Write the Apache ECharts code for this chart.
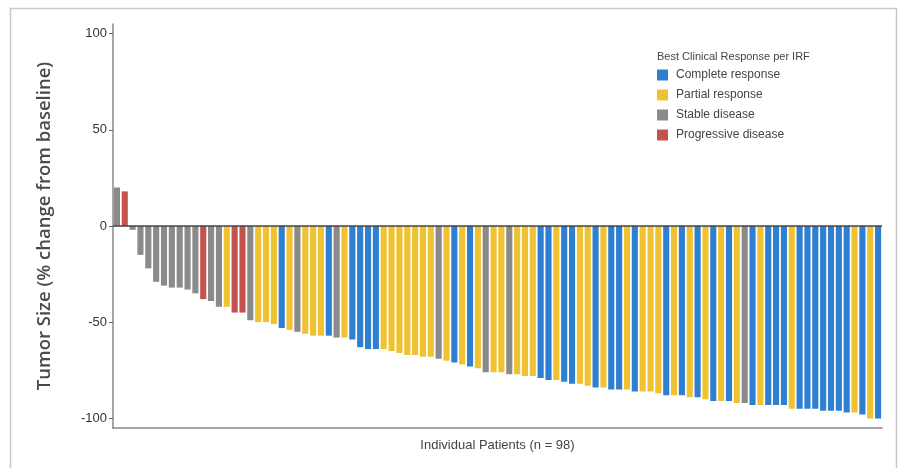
<!DOCTYPE html>
<html>
<head>
<meta charset="utf-8">
<script src="https://cdn.jsdelivr.net/npm/echarts@6/dist/echarts.min.js"></script>
<style>html,body{margin:0;padding:0;background:#fff;}#c{width:907px;height:468px;}</style>
</head>
<body>
<div id="c"></div>
<script>
// Response codes: C = Complete, P = Partial, S = Stable, D = Progressive
const patients = Array.from({length: 98}, (_, i) => 'P' + (i + 1));
const tumorChange = [
  20, 18, -2, -15, -22, -29, -31, -32, -32, -33,
  -35, -38, -39, -42, -42, -45, -45, -49, -50, -50,
  -51, -53, -54, -55, -56, -57, -57, -57, -58, -58,
  -59, -63, -64, -64, -64, -65, -66, -67, -67, -68,
  -68, -69, -70, -71, -72, -73, -74, -76, -76, -76,
  -77, -77, -78, -78, -79, -80, -80, -81, -82, -82,
  -83, -84, -84, -85, -85, -85, -86, -86, -86, -87,
  -88, -88, -88, -89, -89, -90, -91, -91, -91, -92,
  -92, -93, -93, -93, -93, -93, -95, -95, -95, -95,
  -96, -96, -96, -97, -97, -98, -100, -100
];
const response = [
  'S','D','S','S','S','S','S','S','S','S',
  'S','D','S','S','P','D','D','S','P','P',
  'P','C','P','S','P','P','P','C','S','P',
  'C','C','C','C','P','P','P','P','P','P',
  'P','S','P','C','P','C','P','S','P','P',
  'S','P','P','P','C','C','P','C','C','P',
  'P','C','P','C','C','P','C','P','P','P',
  'C','P','C','P','C','P','C','P','C','P',
  'S','C','P','C','C','C','P','C','C','C',
  'C','C','C','C','P','C','P','C'
];
const categories = [
  {code: 'C', name: 'Complete response', color: '#2f7fd0'},
  {code: 'P', name: 'Partial response', color: '#f0c232'},
  {code: 'S', name: 'Stable disease', color: '#8a8a8a'},
  {code: 'D', name: 'Progressive disease', color: '#c4524f'}
];
const yTicks = [-100, -50, 0, 50, 100];

const series = categories.map((c, k) => ({
  name: c.name,
  type: 'bar',
  stack: 'all',
  barCategoryGap: '22%',
  itemStyle: {color: c.color},
  data: tumorChange.map((v, i) => response[i] === c.code ? v : null),
  markLine: k === 0 ? {
    silent: true, symbol: 'none', label: {show: false},
    lineStyle: {color: '#444', width: 1.5, type: 'solid'},
    data: [{yAxis: 0}]
  } : undefined
}));

const chart = echarts.init(document.getElementById('c'));
chart.setOption({
  animation: false,
  backgroundColor: '#fff',
  textStyle: {fontFamily: 'Liberation Sans, Arial, sans-serif'},
  graphic: [{
    type: 'rect', left: 8, top: 6, silent: true,
    shape: {width: 886, height: 470},
    style: {fill: 'none', stroke: '#c8c8c8', lineWidth: 1.5}
  }],
  title: {
    text: 'Best Clinical Response per IRF',
    left: 652, top: 46,
    textStyle: {fontSize: 11, fontWeight: 'normal', color: '#444'}
  },
  legend: {
    orient: 'vertical', left: 652, top: 64,
    icon: 'rect', itemWidth: 11, itemHeight: 11, itemGap: 8,
    textStyle: {fontSize: 12, color: '#444', padding: [0, 0, 0, 3]},
    data: categories.map(c => c.name)
  },
  grid: {left: 113, right: 25, top: 24, bottom: 40},
  xAxis: {
    type: 'category', data: patients,
    name: 'Individual Patients (n = 98)', nameLocation: 'middle', nameGap: 11,
    nameTextStyle: {fontSize: 13, color: '#444'},
    axisLine: {onZero: false, lineStyle: {color: '#888', width: 1.5}},
    axisTick: {show: false}, axisLabel: {show: false}
  },
  yAxis: {
    type: 'value', min: -105, max: 105,
    name: 'Tumor Size (% change from baseline)', nameLocation: 'middle', nameGap: 59,
    nameTextStyle: {fontSize: 18.5, color: '#4a4a4a', fontWeight: 600, fontFamily: 'Open Sans, Liberation Sans, sans-serif'},
    axisLine: {show: true, lineStyle: {color: '#888', width: 1.5}},
    axisTick: {show: true, length: 4, customValues: yTicks, lineStyle: {color: '#666'}},
    axisLabel: {customValues: yTicks, fontSize: 13, color: '#333', margin: 6},
    splitLine: {show: false}
  },
  series: series
});
</script>
</body>
</html>
